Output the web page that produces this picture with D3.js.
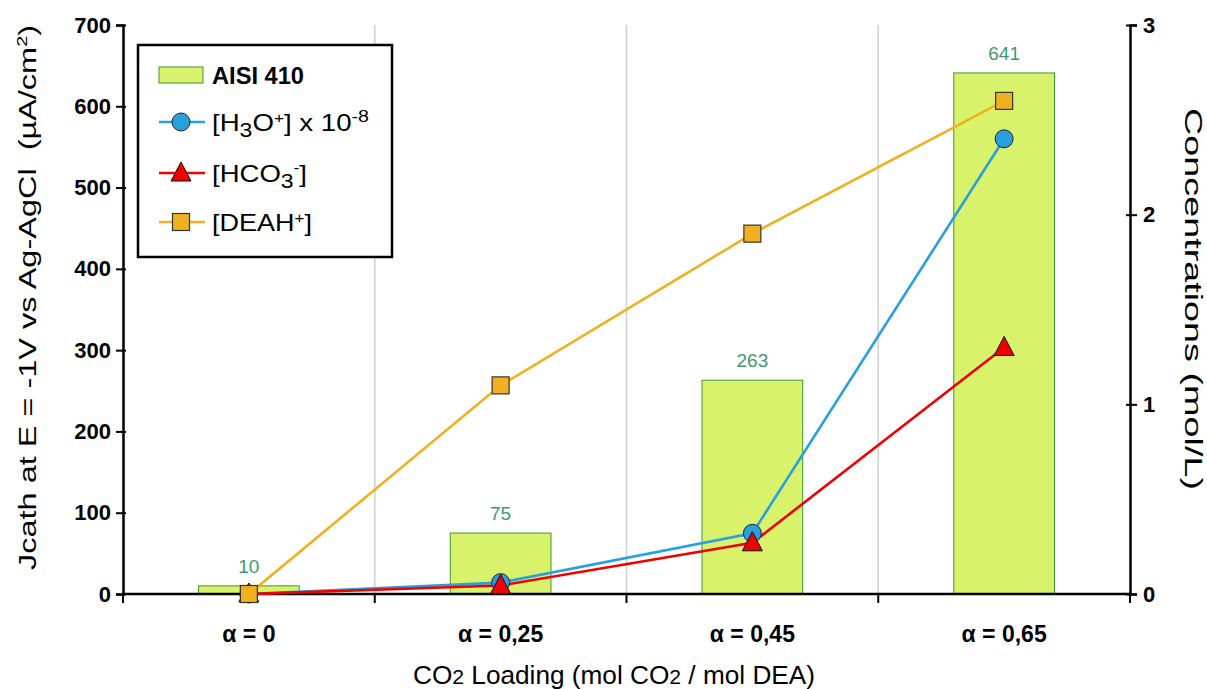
<!DOCTYPE html>
<html lang="en">
<head>
<meta charset="utf-8" />
<title>Jcath vs CO2 loading</title>
<style>
  body { margin: 0; background: #fff; }
  svg text { font-family: "Liberation Sans", Arial, sans-serif; }
</style>
</head>
<body>
<div id="chart"></div>
<script src="https://cdn.jsdelivr.net/npm/d3@7"></script>
<script>
"use strict";

// data
const categories = ["α = 0", "α = 0,25", "α = 0,45", "α = 0,65"];
const jcath = [10, 75, 263, 641];          // bars, left axis (µA/cm²)
const h3o = [0, 0.06, 0.32, 2.40];         // [H3O+] x 1e-8, right axis
const hco3 = [0, 0.045, 0.27, 1.30];       // [HCO3-], right axis
const deah = [0, 1.10, 1.90, 2.60];        // [DEAH+], right axis
const leftTicks = [0, 100, 200, 300, 400, 500, 600, 700];
const rightTicks = [0, 1, 2, 3];

const width = 1207, height = 689;
const margin = {top: 25, right: 77, bottom: 95, left: 123};

const svg = d3.select("#chart").append("svg")
    .attr("width", width)
    .attr("height", height);

const x = d3.scaleBand()
    .domain(categories)
    .range([margin.left, width - margin.right])
    .paddingInner(0.6)
    .paddingOuter(0.3);

const yL = d3.scaleLinear().domain([0, 700]).range([height - margin.bottom, margin.top]);
const yR = d3.scaleLinear().domain([0, 3]).range([height - margin.bottom, margin.top]);

const cx = c => x(c) + x.bandwidth() / 2;
const step = x.step();
const bounds = [cx(categories[0]) - step / 2].concat(categories.map(c => cx(c) + step / 2));

// vertical gridlines
svg.append("g").selectAll("line")
  .data(bounds.slice(1, -1))
  .join("line")
    .attr("x1", d => d).attr("x2", d => d)
    .attr("y1", yL(700)).attr("y2", yL(0))
    .attr("stroke", "#d0d0d0")
    .attr("stroke-width", 1.5);

// bars
svg.append("g").selectAll("rect")
  .data(jcath)
  .join("rect")
    .attr("x", (d, i) => x(categories[i]))
    .attr("y", d => yL(d))
    .attr("width", x.bandwidth())
    .attr("height", d => yL(0) - yL(d))
    .attr("fill", "#d9f26c")
    .attr("stroke", "#3a9a2a")
    .attr("stroke-width", 1);

svg.append("g").selectAll("text")
  .data(jcath)
  .join("text")
    .attr("x", (d, i) => cx(categories[i]))
    .attr("y", d => yL(d) - 13)
    .attr("text-anchor", "middle")
    .attr("font-size", 19)
    .attr("fill", "#3d9a6e")
    .text(d => d);

// axes
const leftAxis = svg.append("g")
    .attr("transform", `translate(${margin.left},0)`)
    .call(d3.axisLeft(yL).tickValues(leftTicks).tickSize(7).tickPadding(5));
const rightAxis = svg.append("g")
    .attr("transform", `translate(${width - margin.right},0)`)
    .call(d3.axisRight(yR).tickValues(rightTicks).tickFormat(d3.format("d")).tickSize(7).tickPadding(6));
[leftAxis, rightAxis].forEach(a => {
  a.select(".domain").attr("stroke-width", 2.5).attr("stroke", "#000");
  a.selectAll(".tick line").attr("stroke-width", 2).attr("stroke", "#000");
  a.selectAll(".tick text")
    .attr("font-size", 22).attr("font-weight", "bold")
    .attr("font-family", "'Liberation Sans', Arial, sans-serif")
    .attr("fill", "#000");
});
rightAxis.selectAll(".tick line").attr("x1", -4);
leftAxis.selectAll(".tick line").attr("x2", -7).attr("x1", 3);

// bottom axis
const xb = svg.append("g");
xb.append("line")
    .attr("x1", margin.left).attr("x2", width - margin.right)
    .attr("y1", yL(0)).attr("y2", yL(0))
    .attr("stroke", "#000").attr("stroke-width", 2.5);
xb.selectAll("line.tk")
  .data(bounds)
  .join("line")
    .attr("class", "tk")
    .attr("x1", d => d).attr("x2", d => d)
    .attr("y1", yL(0)).attr("y2", yL(0) + 9)
    .attr("stroke", "#000").attr("stroke-width", 2);
xb.selectAll("text")
  .data(categories)
  .join("text")
    .attr("x", d => cx(d))
    .attr("y", yL(0) + 48)
    .attr("text-anchor", "middle")
    .attr("font-size", 23)
    .attr("font-weight", "bold")
    .text(d => d);

// lines
const series = [
  {key: "h3o", values: h3o, color: "#27a0dc", shape: "circle"},
  {key: "hco3", values: hco3, color: "#f00000", shape: "triangle"},
  {key: "deah", values: deah, color: "#f0b020", shape: "square"}
];
const line = d3.line()
    .x((d, i) => cx(categories[i]))
    .y(d => yR(d));

series.forEach(s => {
  svg.append("path")
      .datum(s.values)
      .attr("fill", "none")
      .attr("stroke", s.color)
      .attr("stroke-width", 2.6)
      .attr("d", line);
});

function marker(g, shape, color, px, py) {
  if (shape === "circle") {
    g.append("circle").attr("cx", px).attr("cy", py).attr("r", 9)
      .attr("fill", color).attr("stroke", "#223").attr("stroke-width", 1);
  } else if (shape === "triangle") {
    g.append("path")
      .attr("d", `M${px},${py - 11}L${px + 10},${py + 8}L${px - 10},${py + 8}Z`)
      .attr("fill", color).attr("stroke", "#111").attr("stroke-width", 1);
  } else {
    g.append("rect").attr("x", px - 8.5).attr("y", py - 8.5).attr("width", 17).attr("height", 17)
      .attr("fill", color).attr("stroke", "#333").attr("stroke-width", 1.2);
  }
}

series.forEach(s => {
  const g = svg.append("g");
  s.values.forEach((v, i) => marker(g, s.shape, s.color, cx(categories[i]), yR(v)));
});

// axis titles (the source picture is stretched, so fit titles to its extents)
svg.append("text")
    .attr("transform", `translate(36,${(25 + 570) / 2}) rotate(-90)`)
    .attr("text-anchor", "middle")
    .attr("font-size", 23)
    .attr("textLength", 545)
    .attr("lengthAdjust", "spacingAndGlyphs")
    .html("Jcath at E = -1V vs Ag-AgCl&#160;&#160;(µA/cm<tspan dy='-9' font-size='14'>2</tspan><tspan dy='9'>)</tspan>");

svg.append("text")
    .attr("transform", `translate(1185,${(108 + 490) / 2}) rotate(90)`)
    .attr("text-anchor", "middle")
    .attr("font-size", 23)
    .attr("textLength", 382)
    .attr("lengthAdjust", "spacingAndGlyphs")
    .text("Concentrations (mol/L)");

svg.append("text")
    .attr("x", 614)
    .attr("y", 684)
    .attr("text-anchor", "middle")
    .attr("font-size", 26)
    .attr("textLength", 402)
    .attr("lengthAdjust", "spacingAndGlyphs")
    .html("CO<tspan font-size='21'>2</tspan> Loading (mol CO<tspan font-size='21'>2</tspan> / mol DEA)");

// legend
const lg = svg.append("g");
lg.append("rect")
    .attr("x", 138).attr("y", 45).attr("width", 254).attr("height", 212)
    .attr("fill", "#fff").attr("stroke", "#000").attr("stroke-width", 2.5);

const legendRows = [
  {label: "AISI 410", y: 75, len: 92},
  {label: "[H<tspan dy='6' font-size='20'>3</tspan><tspan dy='-6'>O</tspan><tspan dy='-8' font-size='15'>+</tspan><tspan dy='8'>] x 10</tspan><tspan dy='-9' font-size='17'>-8</tspan>", y: 122, s: series[0], len: 157},
  {label: "[HCO<tspan dy='6' font-size='20'>3</tspan><tspan dy='-15' font-size='15'>-</tspan><tspan dy='9'>]</tspan>", y: 173, s: series[1], len: 95},
  {label: "[DEAH<tspan dy='-8' font-size='15'>+</tspan><tspan dy='8'>]</tspan>", y: 222, s: series[2], len: 100}
];
legendRows.forEach(r => {
  if (!r.s) {
    lg.append("rect").attr("x", 159).attr("y", r.y - 8).attr("width", 44).attr("height", 16)
      .attr("fill", "#d9f26c").attr("stroke", "#3a9a2a").attr("stroke-width", 1);
  } else {
    lg.append("line").attr("x1", 159).attr("x2", 205).attr("y1", r.y).attr("y2", r.y)
      .attr("stroke", r.s.color).attr("stroke-width", 2.6);
    marker(lg, r.s.shape, r.s.color, 181, r.y);
  }
  lg.append("text")
      .attr("x", 212).attr("y", r.y + 9)
      .attr("font-size", 24)
      .attr("font-weight", r.s ? "normal" : "bold")
      .attr("textLength", r.len)
      .attr("lengthAdjust", "spacingAndGlyphs")
      .html(r.label);
});
</script>
</body>
</html>
